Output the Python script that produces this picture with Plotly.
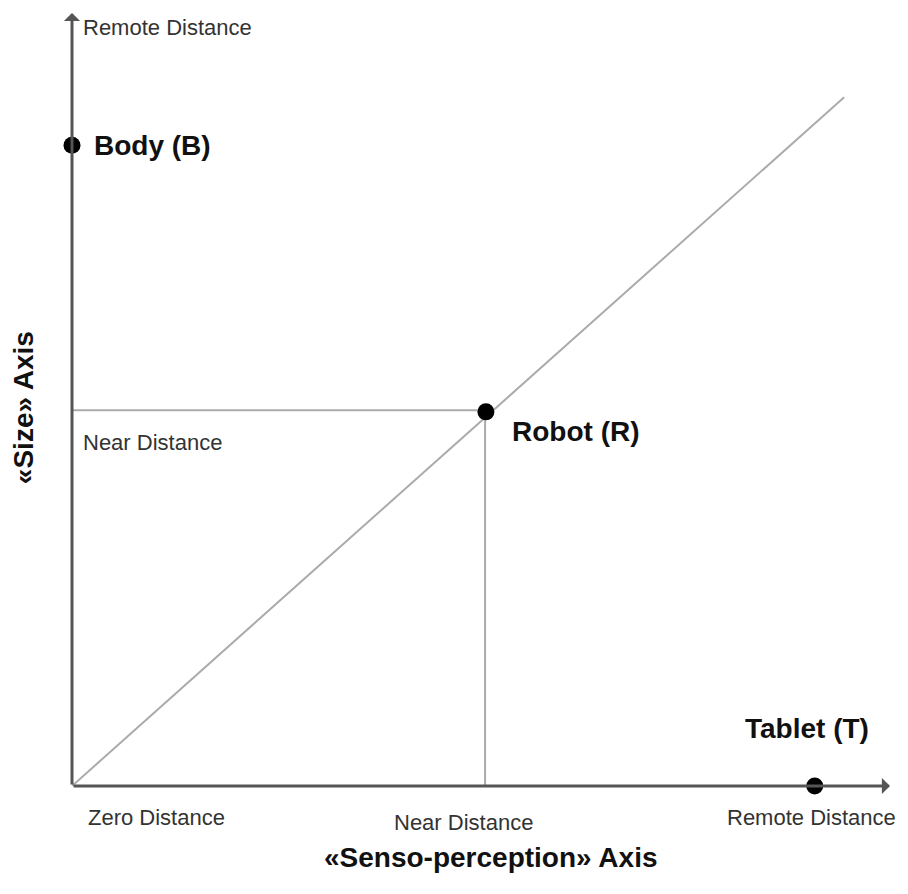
import plotly.graph_objects as go

# Data (in axis units 0..10)
point_names = ["Body (B)", "Robot (R)", "Tablet (T)"]
point_x = [0.0, 5.06, 9.08]
point_y = [8.29, 4.84, 0.0]

diag_x = [0.0, 9.44]
diag_y = [0.0, 8.91]

guide_h_x = [0.0, 5.06]
guide_h_y = [4.86, 4.86]
guide_v_x = [5.05, 5.05]
guide_v_y = [0.0, 4.84]

x_labels = ["Zero Distance", "Near Distance", "Remote Distance"]
x_label_pos = [1.03, 4.78, 9.04]
x_label_y = [-0.41, -0.47, -0.41]
y_labels = ["Remote Distance", "Near Distance"]
y_label_pos = [9.81, 4.45]

x_title = "«Senso-perception» Axis"
y_title = "«Size» Axis"

FONT = "Liberation Sans, Arial, sans-serif"
AX = "#555555"
GUIDE = "#ababab"
Y0, Y1 = 0, 10
X0, X1 = 0, 10


def ypaper(v):
    return (v - Y0) / (Y1 - Y0)


def xpaper(v):
    return (v - X0) / (X1 - X0)


fig = go.Figure()
fig.add_trace(go.Scatter(x=diag_x, y=diag_y, mode="lines",
                         line=dict(color=GUIDE, width=2), hoverinfo="skip"))
fig.add_trace(go.Scatter(x=guide_h_x, y=guide_h_y, mode="lines",
                         line=dict(color=GUIDE, width=2), hoverinfo="skip"))
fig.add_trace(go.Scatter(x=guide_v_x, y=guide_v_y, mode="lines",
                         line=dict(color=GUIDE, width=2), hoverinfo="skip"))

# axes with arrows
fig.add_annotation(x=X1, y=Y0, ax=X0, ay=Y0, xref="x", yref="y", axref="x", ayref="y",
                   text="", showarrow=True, arrowhead=1, arrowsize=0.9,
                   arrowwidth=3, arrowcolor=AX, standoff=0, startstandoff=0)
fig.add_annotation(x=X0, y=Y1, ax=X0, ay=Y0, xref="x", yref="y", axref="x", ayref="y",
                   text="", showarrow=True, arrowhead=1, arrowsize=0.9,
                   arrowwidth=3, arrowcolor=AX, standoff=0, startstandoff=0)

fig.add_trace(go.Scatter(x=point_x, y=point_y, mode="markers",
                         marker=dict(color="black", size=17), cliponaxis=False,
                         hoverinfo="text", text=point_names))

# point labels
label_offsets = [(0.24, 8.28), (5.36, 4.58), (8.20, 0.75)]
for name, (lx, ly) in zip(point_names, label_offsets):
    fig.add_annotation(x=lx, y=ly, xref="x", yref="y", text=name, showarrow=False,
                       xanchor="left", yanchor="middle",
                       font=dict(family=FONT, size=28, color="#111111", weight="bold"))

for t, xp, yy in zip(x_labels, x_label_pos, x_label_y):
    fig.add_annotation(x=xp, y=ypaper(yy), xref="x", yref="paper", text=t, showarrow=False,
                       xanchor="center", yanchor="middle",
                       font=dict(family=FONT, size=22, color="#333333"))

for t, yp in zip(y_labels, y_label_pos):
    fig.add_annotation(x=0.11, y=yp, xref="x", yref="y", text=t, showarrow=False,
                       xanchor="left", yanchor="middle",
                       font=dict(family=FONT, size=22, color="#333333"))

fig.add_annotation(x=5.12, y=ypaper(-0.93), xref="x", yref="paper", text=x_title,
                   showarrow=False, xanchor="center", yanchor="middle",
                   font=dict(family=FONT, size=28, color="#111111", weight="bold"))
fig.add_annotation(x=xpaper(-0.60), y=4.90, xref="paper", yref="y", text=y_title,
                   showarrow=False, xanchor="center", yanchor="middle", textangle=-90,
                   font=dict(family=FONT, size=28, color="#111111", weight="bold"))

fig.update_layout(
    width=900, height=886,
    margin=dict(l=64, r=18, t=5, b=108),
    plot_bgcolor="white", paper_bgcolor="white",
    showlegend=False,
    xaxis=dict(range=[X0, X1], visible=False, fixedrange=True),
    yaxis=dict(range=[Y0, Y1], visible=False, fixedrange=True),
)

fig.write_html("out.html")
